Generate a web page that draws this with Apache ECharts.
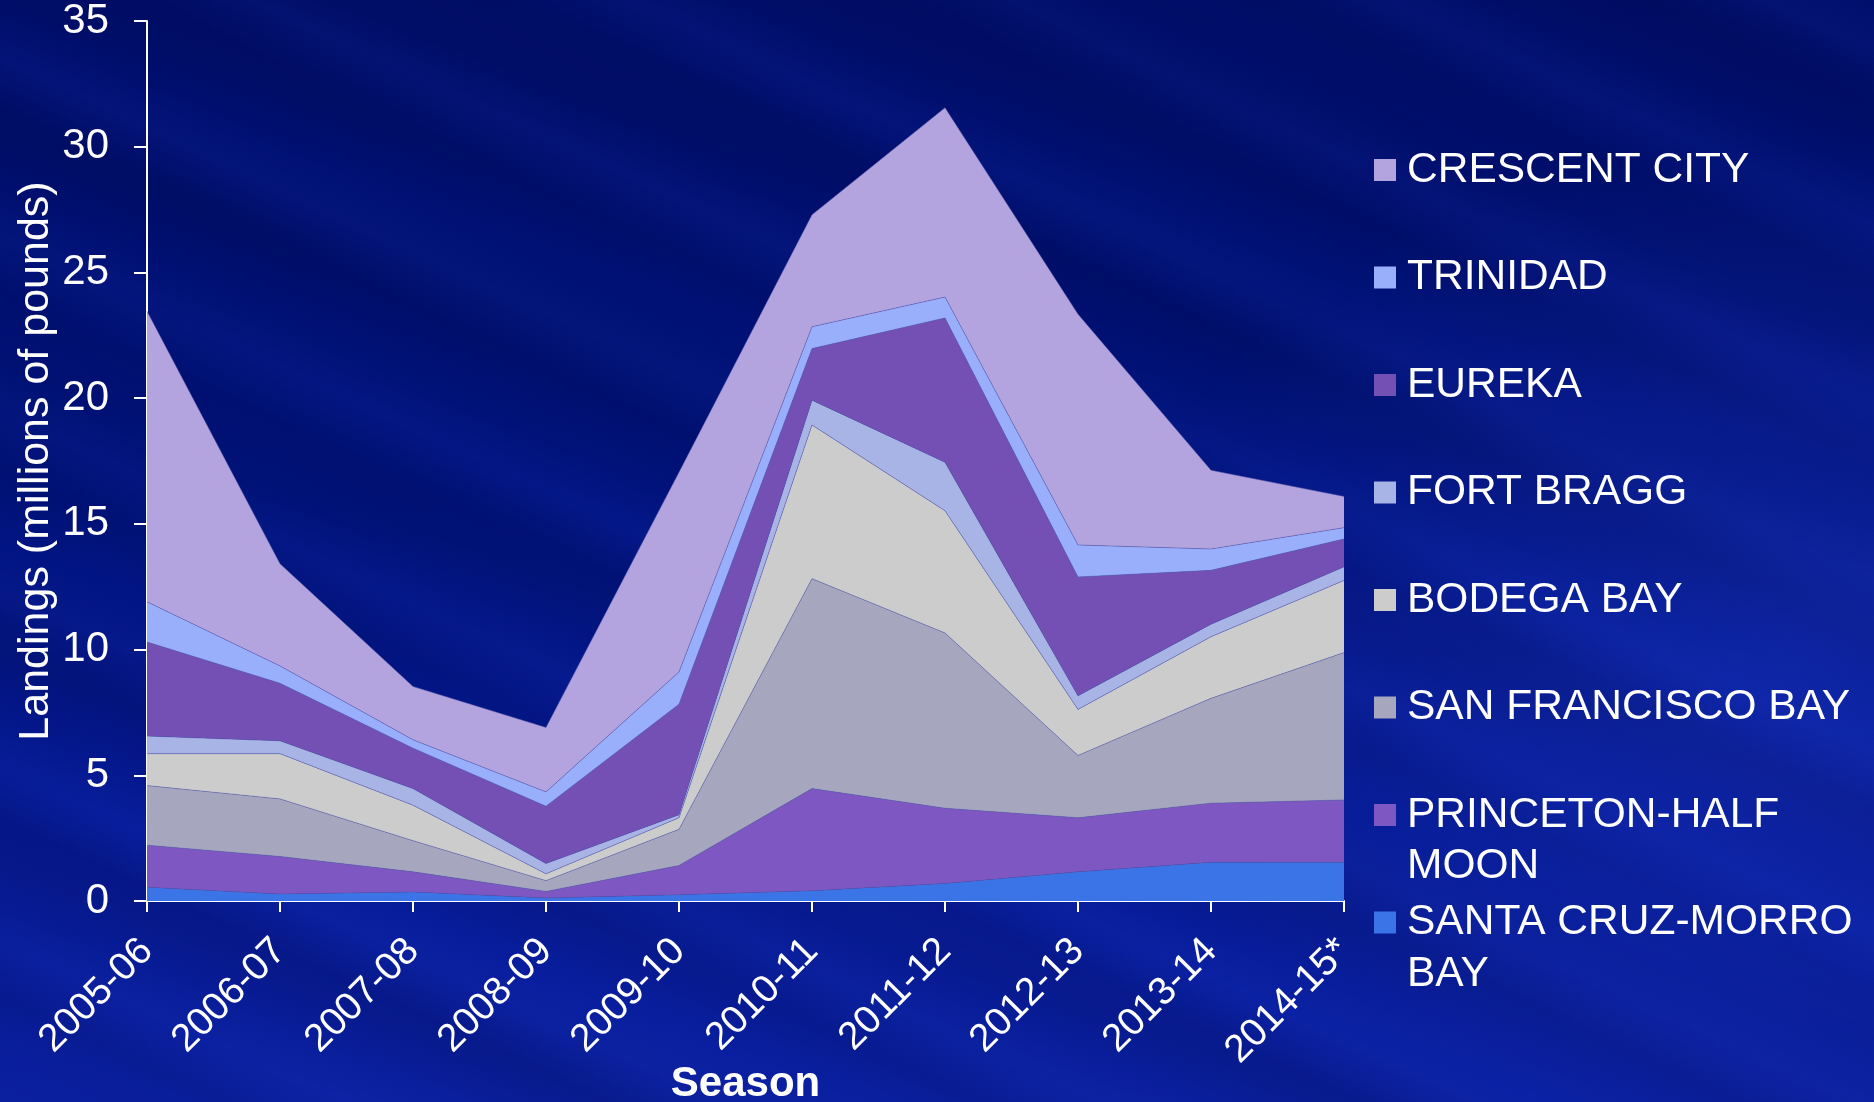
<!DOCTYPE html>
<html>
<head>
<meta charset="utf-8">
<script src="https://cdn.jsdelivr.net/npm/echarts@6/dist/echarts.min.js"></script>
<style>
  html, body { margin: 0; padding: 0; }
  #chart {
    width: 1874px;
    height: 1102px;
    background:
      radial-gradient(ellipse 700px 500px at 1800px 650px, rgba(40,70,230,0.30), rgba(40,70,230,0) 100%),
      repeating-linear-gradient(205deg, rgba(255,255,255,0) 0px, rgba(60,90,255,0.06) 45px, rgba(0,0,40,0.10) 95px, rgba(255,255,255,0) 160px),
      repeating-linear-gradient(200deg, rgba(0,0,0,0) 0px, rgba(0,0,30,0.08) 70px, rgba(0,0,0,0) 230px),
      linear-gradient(180deg, #000e6c 0%, #00137f 45%, #051a96 75%, #0a20a3 100%);
  }
</style>
</head>
<body>
<div id="chart"></div>
<script>
// seasons on the x axis
let seasons = ['2005-06', '2006-07', '2007-08', '2008-09', '2009-10',
  '2010-11', '2011-12', '2012-13', '2013-14', '2014-15*']

// landings per port, millions of pounds (stacked bottom to top)
let santaCruzMorro = [0.55, 0.28, 0.36, 0.12, 0.25, 0.41, 0.70, 1.16, 1.54, 1.54]
let princetonHalfMoon = [1.67, 1.49, 0.80, 0.26, 1.16, 4.06, 2.99, 2.15, 2.35, 2.48]
let sanFrancisco = [2.37, 2.29, 1.24, 0.43, 1.44, 8.35, 6.97, 2.48, 4.17, 5.86]
let bodegaBay = [1.27, 1.80, 1.41, 0.27, 0.46, 6.11, 4.86, 1.83, 2.45, 2.87]
let fortBragg = [0.70, 0.51, 0.66, 0.41, 0.12, 0.99, 1.93, 0.54, 0.50, 0.54]
let eureka = [3.74, 2.29, 1.61, 2.28, 4.40, 2.05, 5.74, 4.73, 2.14, 1.11]
let trinidad = [1.60, 0.69, 0.33, 0.57, 1.28, 0.87, 0.83, 1.27, 0.85, 0.45]
let crescentCity = [11.56, 4.06, 2.12, 2.56, 7.94, 4.45, 7.53, 9.18, 3.13, 1.24]

let yTicks = [0, 5, 10, 15, 20, 25, 30, 35]

let ports = [
  {name: 'SANTA CRUZ-MORRO BAY', data: santaCruzMorro, color: '#3a74e6'},
  {name: 'PRINCETON-HALF MOON', data: princetonHalfMoon, color: '#7f57c3'},
  {name: 'SAN FRANCISCO BAY', data: sanFrancisco, color: '#a6a6bf'},
  {name: 'BODEGA BAY', data: bodegaBay, color: '#cccccc'},
  {name: 'FORT BRAGG', data: fortBragg, color: '#a8b3e6'},
  {name: 'EUREKA', data: eureka, color: '#7450b4'},
  {name: 'TRINIDAD', data: trinidad, color: '#99affc'},
  {name: 'CRESCENT CITY', data: crescentCity, color: '#b3a4e0'}
]

let chart = echarts.init(document.getElementById('chart'), null, {
  width: 1874,
  height: 1102
})

let seriesList = []
for (let p of ports) {
  seriesList.push({
    name: p.name,
    type: 'line',
    stack: 'ports',
    symbol: 'none',
    color: p.color,
    lineStyle: {width: 0.7, color: 'rgba(90,90,170,0.7)'},
    areaStyle: {color: p.color, opacity: 1},
    emphasis: {disabled: true},
    data: p.data
  })
}

// legend shows only first line, second line drawn as text below
let firstLine = {
  'PRINCETON-HALF MOON': 'PRINCETON-HALF',
  'SANTA CRUZ-MORRO BAY': 'SANTA CRUZ-MORRO'
}

let font = 'Liberation Sans, Arial, sans-serif'

let option = {
  backgroundColor: 'transparent',
  animation: false,
  textStyle: {fontFamily: font},
  grid: {left: 147, right: 530, top: 21, bottom: 201, containLabel: false, outerBoundsMode: 'none'},
  legend: {
    orient: 'vertical',
    left: 1374,
    top: 145,
    padding: 0,
    itemWidth: 22,
    itemHeight: 22,
    itemGap: 57.5,
    icon: 'rect',
    selectedMode: false,
    data: ports.map(p => p.name).reverse(),
    formatter: name => firstLine[name] || name,
    textStyle: {color: '#ffffff', fontSize: 42.5, lineHeight: 50, fontFamily: font, padding: [0, 0, 0, 6]}
  },
  graphic: [
    {type: 'text', left: 1407, top: 845, style: {text: 'MOON', fill: '#ffffff', font: '42.5px ' + font}},
    {type: 'text', left: 1407, top: 953, style: {text: 'BAY', fill: '#ffffff', font: '42.5px ' + font}}
  ],
  xAxis: {
    type: 'category',
    data: seasons,
    boundaryGap: false,
    name: 'Season',
    nameLocation: 'middle',
    nameGap: 162,
    nameMoveOverlap: false,
    nameTextStyle: {color: '#ffffff', fontSize: 42, fontWeight: 'bold', fontFamily: font},
    axisLine: {show: true, lineStyle: {color: '#ffffff', width: 2}},
    axisTick: {show: true, length: 11, lineStyle: {color: '#ffffff', width: 2}},
    axisLabel: {color: '#ffffff', fontSize: 39, rotate: 45, margin: 44, fontFamily: font},
    splitLine: {show: false}
  },
  yAxis: {
    type: 'value',
    min: yTicks[0],
    max: yTicks[yTicks.length - 1],
    interval: 5,
    name: 'Landings (millions of pounds)',
    nameLocation: 'middle',
    nameGap: 89,
    nameMoveOverlap: false,
    nameTextStyle: {color: '#ffffff', fontSize: 43, fontFamily: font},
    axisLine: {show: true, lineStyle: {color: '#ffffff', width: 2}},
    axisTick: {show: true, length: 13, lineStyle: {color: '#ffffff', width: 2}},
    axisLabel: {color: '#ffffff', fontSize: 42, margin: 38, fontFamily: font},
    splitLine: {show: false}
  },
  series: seriesList
}

chart.setOption(option)
</script>
</body>
</html>
